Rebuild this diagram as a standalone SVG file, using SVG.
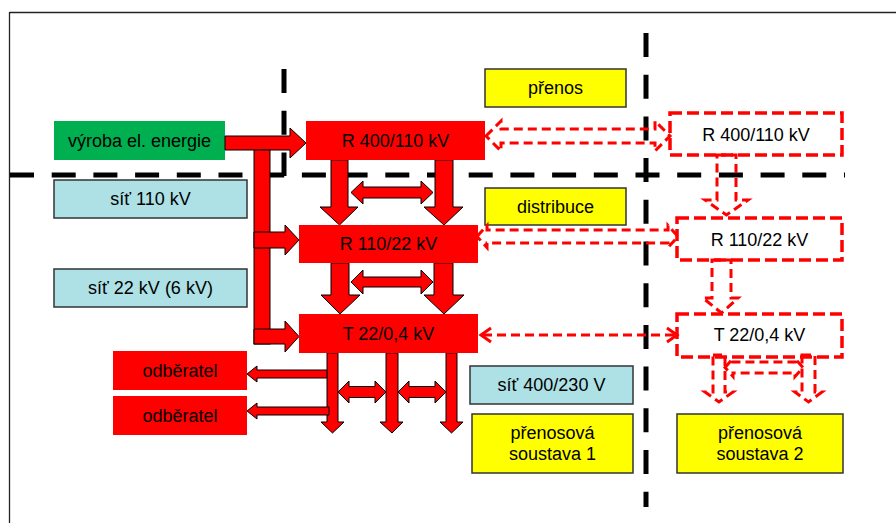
<svg xmlns="http://www.w3.org/2000/svg" width="896" height="523" viewBox="0 0 896 523">
<style>
text{font-family:"Liberation Sans",Arial,sans-serif;font-size:18px;fill:#000;text-anchor:middle;dominant-baseline:central}
.red{fill:#ff0000}
.blue{fill:#ade1e5;stroke:#333;stroke-width:1.5}
.yel{fill:#ffff00;stroke:#333;stroke-width:1.5}
.grn{fill:#00b050}
.dbox{fill:none;stroke:#ff0000;stroke-width:3.5;stroke-dasharray:12 5}
.arr{fill:#ff0000;stroke:#000;stroke-width:1}
.darr{fill:none;stroke:#ff0000;stroke-width:3;stroke-dasharray:9 5}
.bl{stroke:#000;stroke-width:5;stroke-dasharray:24 17.7;fill:none}
</style>
<rect width="896" height="523" fill="#fff"/>
<g id="frame" fill="none" stroke="#222" stroke-width="1.3">
<line x1="9.5" y1="12.5" x2="896" y2="12.5"/>
<line x1="9.5" y1="12" x2="9.5" y2="523"/>
</g>
<g id="dividers">
<line class="bl" x1="10" y1="175" x2="845" y2="175"/>
<line class="bl" x1="284" y1="69" x2="284" y2="176"/>
<line class="bl" x1="646" y1="33" x2="646" y2="507"/>
</g>
<g id="vyroba"><rect class="grn" x="54" y="121" width="171" height="39"/><text x="139.5" y="141">výroba el. energie</text></g>
<g id="sit110"><rect class="blue" x="54" y="180" width="193" height="38"/><text x="150.5" y="199">síť 110 kV</text></g>
<g id="sit22"><rect class="blue" x="54" y="269" width="193" height="38"/><text x="150.5" y="288">síť 22 kV (6 kV)</text></g>
<g id="prenos"><rect class="yel" x="485" y="69" width="141" height="38"/><text x="555.5" y="88">přenos</text></g>
<g id="distribuce"><rect class="yel" x="485" y="188" width="141" height="37"/><text x="555.5" y="206.5">distribuce</text></g>
<g id="sit400"><rect class="blue" x="470" y="366" width="163" height="38"/><text x="551.5" y="385">síť 400/230 V</text></g>
<g id="ps1"><rect class="yel" x="472" y="414" width="161" height="59"/><text x="552.5" y="433">přenosová</text><text x="552.5" y="454">soustava 1</text></g>
<g id="ps2"><rect class="yel" x="677" y="414" width="166" height="59"/><text x="760" y="433">přenosová</text><text x="760" y="454">soustava 2</text></g>
<g id="connectors">
<polygon class="arr" points="225,136 290,136 290,128 306,143 290,158 290,150 225,150"/>
<rect class="arr" x="254" y="150" width="16" height="194"/>
<polygon class="arr" points="254,232 285,232 285,225 299,240 285,255 285,248 254,248"/>
<polygon class="arr" points="254,329 285,329 285,321 299,336.5 285,352 285,344 254,344"/>
<polygon class="arr" points="331,160 348,160 348,207 358,207 339.5,225 320,207 331,207"/>
<polygon class="arr" points="435,160 453,160 453,207 463,207 444,225 424,207 435,207"/>
<polygon class="arr" points="351,192.5 363,181 363,187 421,187 421,181 433,192.5 421,204 421,198 363,198 363,204"/>
<polygon class="arr" points="331,263 349,263 349,295 360,295 340,314 321,295 331,295"/>
<polygon class="arr" points="434,263 453,263 453,295 464,295 444,314 424,295 434,295"/>
<polygon class="arr" points="351,282 363,270 363,277 421,277 421,270 433,282 421,294 421,287 363,287 363,294"/>
<polygon class="arr" points="327,353 338,353 338,422 344,422 332.5,433 321,422 327,422"/>
<polygon class="arr" points="386,353 398,353 398,422 403,422 392,433 380,422 386,422"/>
<polygon class="arr" points="446,353 457,353 457,422 463,422 451.5,433 440,422 446,422"/>
<polygon class="arr" points="338,392 349,381 349,386.5 375,386.5 375,381 386,392 375,403 375,397.5 349,397.5 349,403"/>
<polygon class="arr" points="398,392 409,381 409,386.5 435,386.5 435,381 446,392 435,403 435,397.5 409,397.5 409,403"/>
<polygon class="arr" points="327,370 257,370 257,366 247,374 257,382 257,378 327,378"/>
<polygon class="arr" points="329,407 257,407 257,403 247,411 257,419 257,415 329,415"/>
<polygon class="darr" points="486,136 501,121 501,129 655,129 655,121 670,136 655,151 655,143 501,143 501,151"/>
<polygon class="darr" points="477,236.5 487,225.5 487,230 668,230 668,225.5 678,236.5 668,247.5 668,243 487,243 487,247.5"/>
<line class="darr" x1="483" y1="335" x2="675" y2="335"/>
<polyline class="darr" points="491,328 481,335 491,342" style="stroke-dasharray:none"/>
<polyline class="darr" points="667,328 677,335 667,342" style="stroke-dasharray:none"/>
<polygon class="darr" points="717,155 736,155 736,200 748,200 726.5,215 705,200 717,200"/>
<polygon class="darr" points="712,260 731,260 731,298 738,298 721.5,313 703,298 712,298"/>
<polygon class="darr" points="713,355 725,355 725,392 733,392 719,402 705,392 713,392"/>
<polygon class="darr" points="802,355 815,355 815,392 822,392 808.5,402 795,392 802,392"/>
<polygon class="darr" points="725,367.5 733,358.5 733,362 795,362 795,358.5 803,367.5 795,376.5 795,373 733,373 733,376.5"/>
</g>
<g id="R400"><rect class="red" x="306" y="121" width="179" height="39"/><text x="395.5" y="141">R 400/110 kV</text></g>
<g id="R110"><rect class="red" x="299" y="225" width="179" height="38"/><text x="388.5" y="244">R 110/22 kV</text></g>
<g id="T22"><rect class="red" x="299" y="314" width="179" height="39"/><text x="388.5" y="334">T 22/0,4 kV</text></g>
<g id="odb1"><rect class="red" x="113" y="351" width="134" height="39"/><text x="180" y="371">odběratel</text></g>
<g id="odb2"><rect class="red" x="113" y="396" width="134" height="39"/><text x="180" y="416">odběratel</text></g>
<g id="R400d"><rect class="dbox" x="670" y="113" width="172" height="42"/><text x="756" y="135">R 400/110 kV</text></g>
<g id="R110d"><rect class="dbox" x="677" y="218" width="165" height="42"/><text x="759.5" y="240">R 110/22 kV</text></g>
<g id="T22d"><rect class="dbox" x="677" y="314" width="165" height="43"/><text x="759.5" y="335">T 22/0,4 kV</text></g>
</svg>
